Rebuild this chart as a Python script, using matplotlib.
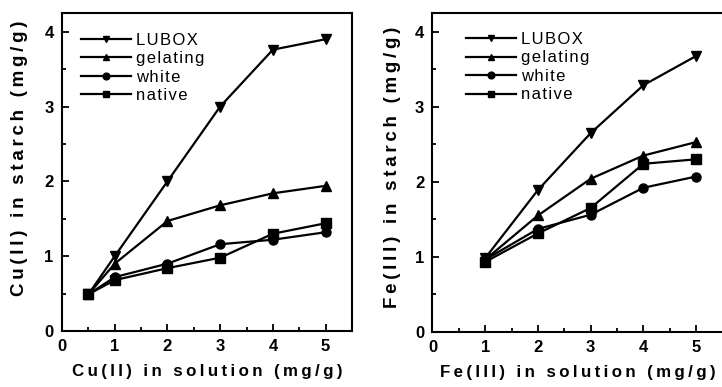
import matplotlib.pyplot as plt
from matplotlib.ticker import MultipleLocator

plt.rcParams['font.family'] = ['Liberation Sans', 'DejaVu Sans']

# Cu(II) panel
cu_x = [0.5, 1, 2, 3, 4, 5]
cu_lubox = [0.49, 1.0, 2.0, 3.0, 3.76, 3.90]
cu_gelating = [0.49, 0.90, 1.47, 1.68, 1.84, 1.94]
cu_white = [0.49, 0.72, 0.90, 1.16, 1.22, 1.32]
cu_native = [0.49, 0.68, 0.84, 0.98, 1.30, 1.44]

# Fe(III) panel
fe_x = [1, 2, 3, 4, 5]
fe_lubox = [0.98, 1.89, 2.65, 3.29, 3.68]
fe_gelating = [0.96, 1.55, 2.04, 2.35, 2.53]
fe_white = [0.96, 1.37, 1.56, 1.92, 2.07]
fe_native = [0.93, 1.31, 1.65, 2.24, 2.30]

names = ['LUBOX', 'gelating', 'white', 'native']
markers = ['v', '^', 'o', 's']


def spaced(s, sep='\u2009'):
    # old scanned figure uses wide letter spacing
    return sep.join(s)


fig = plt.figure(figsize=(7.22, 3.87), dpi=100)
ax1 = fig.add_axes([0.0859, 0.1447, 0.4016, 0.8217])
ax2 = fig.add_axes([0.599, 0.1434, 0.4017, 0.8222])


def draw(ax, x, series, xlabel, ylabel, ylab_pos, leg_pos):
    for ys, name, m in zip(series, names, markers):
        ax.plot(x, ys, color='black', lw=1.6, marker=m, markersize=6.5,
                label=spaced(name, '\u200a'))
    ax.set_xlim(0, 5.5)
    ax.set_ylim(0, 4.25)
    ax.xaxis.set_major_locator(MultipleLocator(1))
    ax.xaxis.set_minor_locator(MultipleLocator(0.5))
    ax.yaxis.set_major_locator(MultipleLocator(1))
    ax.yaxis.set_minor_locator(MultipleLocator(0.5))
    ax.tick_params(which='both', direction='in', width=1.3)
    ax.tick_params(which='major', length=5, labelsize=12, pad=6)
    ax.tick_params(which='minor', length=3)
    for lab in ax.get_xticklabels() + ax.get_yticklabels():
        lab.set_fontweight('bold')
    for s in ax.spines.values():
        s.set_linewidth(1.5)
    ax.set_xlabel(spaced(xlabel), fontsize=12.2, fontweight='bold', labelpad=7)
    ax.set_ylabel(spaced(ylabel), fontsize=13.5, fontweight='bold')
    ax.yaxis.set_label_coords(*ylab_pos)
    ax.legend(loc='upper left', frameon=False, fontsize=12,
              handlelength=3.0, labelspacing=0.21, borderaxespad=1.0,
              handletextpad=0.3, markerscale=0.75,
              bbox_to_anchor=leg_pos)


draw(ax1, cu_x, [cu_lubox, cu_gelating, cu_white, cu_native],
     'Cu(II) in solution (mg/g)', 'Cu(II) in starch (mg/g)',
     (-0.117, 0.544), (-0.014, 1.012))
draw(ax2, fe_x, [fe_lubox, fe_gelating, fe_white, fe_native],
     'Fe(III) in solution (mg/g)', 'Fe(III) in starch (mg/g)',
     (-0.109, 0.517), (0.034, 1.015))
ax2.spines['right'].set_visible(False)

fig.savefig('out.png', dpi=100)
